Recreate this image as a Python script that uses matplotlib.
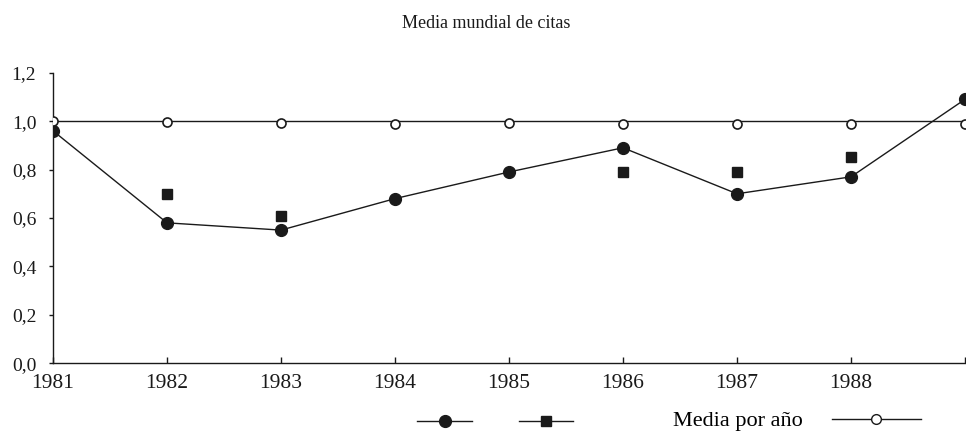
import numpy as np
import matplotlib
matplotlib.use("Agg")
import matplotlib.pyplot as plt
from matplotlib.lines import Line2D

# ---- data ----
years = [1981, 1982, 1983, 1984, 1985, 1986, 1987, 1988, 1989]
xtick_labels = ["1981", "1982", "1983", "1984", "1985", "1986", "1987", "1988", ""]
serie_circulos = [0.96, 0.58, 0.55, 0.68, 0.79, 0.89, 0.70, 0.77, 1.09]
serie_cuadrados = [np.nan, 0.70, 0.61, np.nan, np.nan, 0.79, 0.79, 0.85, np.nan]
media_por_anio = [1.00, 0.995, 0.994, 0.99, 0.994, 0.99, 0.99, 0.99, 0.99]
referencia = 1.0
yticks = [0.0, 0.2, 0.4, 0.6, 0.8, 1.0, 1.2]
ytick_labels = ["0,0", "0,2", "0,4", "0,6", "0,8", "1,0", "1,2"]
titulo = "Media mundial de citas"
etiqueta_media = "Media por año"

ink = "#1a1a1a"
serif = ["Liberation Serif", "DejaVu Serif"]

fig = plt.figure(figsize=(9.66, 4.33), dpi=100)
ax = fig.add_axes([53/966, 1-363.3/433, (965-53)/966, (363.3-72.7)/433])

ax.axhline(referencia, color=ink, lw=1.0, zorder=2)
ax.plot(years, serie_circulos, color=ink, lw=1.0, marker="o", markersize=8.5,
        markerfacecolor=ink, markeredgecolor=ink, zorder=3)
ax.plot(years, serie_cuadrados, linestyle="none", marker="s", markersize=6.5,
        markerfacecolor=ink, markeredgecolor=ink, zorder=3)
ax.plot(years, media_por_anio, linestyle="none", marker="o", markersize=6.5,
        markerfacecolor="white", markeredgecolor=ink, markeredgewidth=1.2, zorder=4)

ax.set_xlim(years[0], years[-1])
ax.set_ylim(yticks[0], yticks[-1])
ax.set_xticks(years)
ax.set_xticklabels(xtick_labels, fontfamily=serif, fontsize=15.5)
ax.set_yticks(yticks)
ax.set_yticklabels(ytick_labels, fontfamily=serif, fontsize=14)
ax.tick_params(axis="x", direction="in", length=4, width=1, colors=ink, pad=8)
ax.tick_params(axis="y", direction="out", length=3, width=1, colors=ink, pad=9)
for s in ["top", "right"]:
    ax.spines[s].set_visible(False)
for s in ["left", "bottom"]:
    ax.spines[s].set_color(ink)
    ax.spines[s].set_linewidth(1.0)

fig.text(486/966, 1-24/433, titulo, ha="center", va="center",
         fontfamily=serif, fontsize=13, color=ink)

# legends
h1 = Line2D([], [], color=ink, lw=1.0, marker="o", markersize=8.5,
            markerfacecolor=ink, markeredgecolor=ink)
h2 = Line2D([], [], color=ink, lw=1.0, marker="s", markersize=7,
            markerfacecolor=ink, markeredgecolor=ink)
h3 = Line2D([], [], color=ink, lw=1.0, marker="o", markersize=7,
            markerfacecolor="white", markeredgecolor=ink)

leg1 = fig.legend([h1], [""], loc="center", bbox_to_anchor=(444.5/966, 1-423/433),
                  frameon=False, handlelength=2.8, handletextpad=0, borderpad=0,
                  prop={"family": serif, "size": 14})
leg2 = fig.legend([h2], [""], loc="center", bbox_to_anchor=(546/966, 1-423/433),
                  frameon=False, handlelength=2.8, handletextpad=0, borderpad=0,
                  prop={"family": serif, "size": 14})
leg3 = fig.legend([h3], [etiqueta_media], loc="center", bbox_to_anchor=(797/966, 1-421/433),
                  frameon=False, handlelength=4.0, handletextpad=1.3, borderpad=0,
                  markerfirst=False, prop={"family": serif, "size": 16})

fig.savefig("out.png", dpi=100)
